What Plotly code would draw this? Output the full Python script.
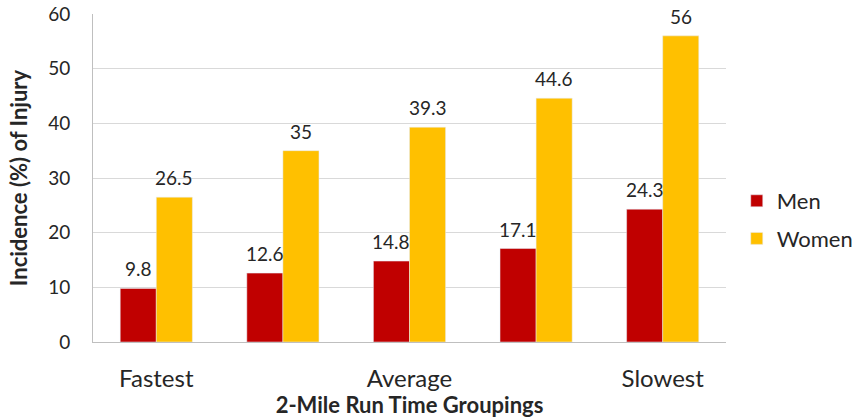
import plotly.graph_objects as go

groups = [1, 2, 3, 4, 5]
tick_vals = [1, 3, 5]
tick_labels = ["Fastest", "Average", "Slowest"]
men = [9.8, 12.6, 14.8, 17.1, 24.3]
women = [26.5, 35, 39.3, 44.6, 56]

font_family = "Lato, Open Sans, sans-serif"
txt = "#262626"
bargap = 0.43
bar_w = (1 - bargap) / 2

fig = go.Figure()
fig.add_trace(go.Bar(x=groups, y=men, name="Men", marker_color="#C00000",
                     legendgroup="m", width=bar_w, offset=-bar_w))
fig.add_trace(go.Bar(x=groups, y=women, name="Women", marker_color="#FFC000",
                     legendgroup="w", width=bar_w, offset=0))

for series, sign in ((men, -1), (women, 1)):
    for g, v in zip(groups, series):
        fig.add_annotation(x=g + sign * bar_w / 2, y=v, text=str(v),
                           showarrow=False, yanchor="bottom", yshift=6,
                           font=dict(size=19, color=txt, family=font_family))

fig.update_layout(
    width=852, height=418,
    margin=dict(l=93, r=126, t=14, b=76, autoexpand=False),
    plot_bgcolor="white", paper_bgcolor="white",
    barmode="overlay",
    font=dict(family=font_family, color=txt),
    legend=dict(x=1.017, y=0.372, xanchor="left", yanchor="middle",
                font=dict(size=22, color=txt), tracegroupgap=6,
                itemwidth=30),
    xaxis=dict(range=[0.5, 5.5], tickvals=tick_vals, ticktext=tick_labels,
               tickfont=dict(size=24, color=txt), showline=True,
               linecolor="#BFBFBF", linewidth=1, ticks="", showgrid=False,
               automargin=False, ticklabelstandoff=15,
               title=dict(text="<b>2-Mile Run Time Groupings</b>",
                          font=dict(size=22, color=txt), standoff=4)),
    yaxis=dict(range=[0, 60], dtick=10, tickfont=dict(size=19, color=txt),
               showgrid=True, gridcolor="#D9D9D9", gridwidth=1,
               showline=True, linecolor="#BFBFBF", linewidth=1,
               ticks="", ticklen=0, zeroline=False,
               automargin=False, ticklabelstandoff=18,
               title=dict(text="<b>Incidence (%) of Injury</b>",
                          font=dict(size=22, color=txt), standoff=14)),
)

fig.write_html("out.html", config={"displayModeBar": False},
               post_script="document.body.style.margin='0';document.body.style.overflow='hidden';")
